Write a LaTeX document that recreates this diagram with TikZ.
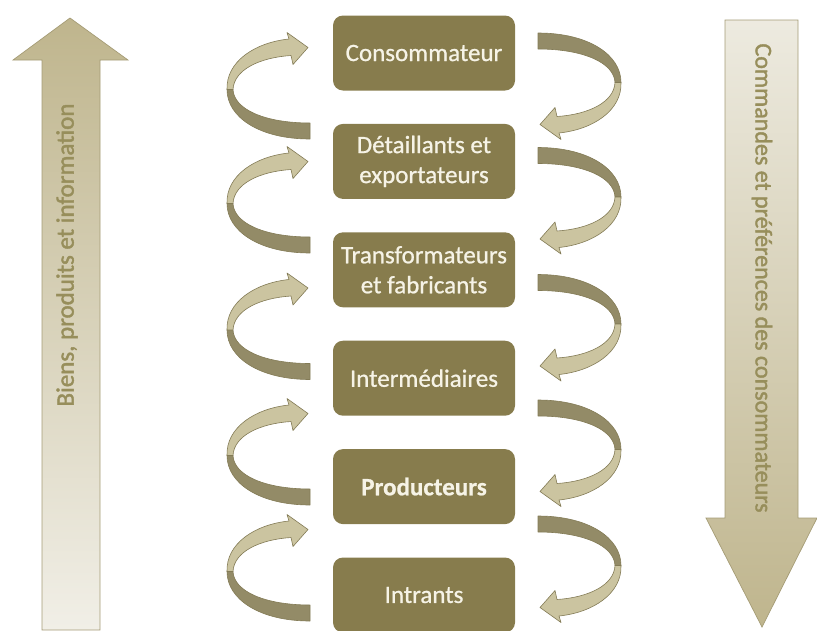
\documentclass[tikz,border=0pt]{standalone}
\usepackage{fontspec}
\setmainfont{Carlito}
\newfontfamily\epais[FakeBold=0.8]{Carlito}
\newfontfamily\fleche[FakeBold=1.6]{Carlito}
\usetikzlibrary{positioning}

\definecolor{olivebox}{HTML}{877C4D}
\definecolor{boxtext}{HTML}{F6F3E6}
\definecolor{ribbonlight}{HTML}{CBC4A0}
\definecolor{ribbondark}{HTML}{938B67}
\definecolor{ribbonedge}{HTML}{837B56}
\definecolor{flowdark}{HTML}{BFB58D}
\definecolor{flowlight}{HTML}{F1EFE7}
\definecolor{flowedge}{HTML}{A59C76}
\definecolor{flowtext}{HTML}{978E5B}

\tikzset{
    etape/.style={rectangle, rounded corners=10pt, minimum width=182pt, minimum height=75pt, align=center, fill=olivebox, text=boxtext, font=\epais\fontsize{25}{30}\selectfont},
    flux/.style={draw=flowedge, line width=0.7pt},
    fluxtexte/.style={text=flowtext, inner sep=0pt},
    ruban/.style={draw=ribbonedge, line width=0.6pt, line join=round},
    % twisted ribbon arrow, tail on the right at (0,41.5), tip at (-2,-42)
    pics/boucle/.style={code={
        \filldraw[ruban, fill=ribbondark] (0,49.5) .. controls (-50,49.5) and (-83,28) .. (-83,0)
            -- (-77,0) .. controls (-76,20) and (-45,33.5) .. (0,33.5) -- cycle;
        \filldraw[ruban, fill=ribbonlight] (-83,0) .. controls (-84,-28) and (-55,-47) .. (-21,-50.5)
            -- (-23,-57) -- (-2,-42) -- (-17,-25) -- (-19,-34)
            .. controls (-50,-32) and (-76,-20) .. (-77,0) -- cycle;
    }},
}

\begin{document}
\begin{tikzpicture}[x=1pt, y=-1pt, node distance=33pt]
    \useasboundingbox (0,0) rectangle (817,630);

    % chain of actors
    \node [etape] (conso) at (424,53) {Consommateur};
    \node [etape, below=of conso] (detail) {D\'etaillants et\\exportateurs};
    \node [etape, below=of detail] (transfo) {Transformateurs\\et fabricants};
    \node [etape, below=of transfo] (inter) {Interm\'ediaires};
    \node [etape, below=of inter] (prod) {\textbf{Producteurs}};
    \node [etape, below=of prod] (intrants) {Intrants};

    % loops on both sides
    \foreach \m in {89.5,203.5,330,455.5,571.5}
        \pic at (310,\m) {boucle};
    \foreach \m in {82.5,197,324,449.5,565.5}
        \pic [rotate=180] at (538,\m) {boucle};

    % big flow arrows
    \path [flux, top color=flowdark, bottom color=flowlight]
        (42,630) -- (42,60) -- (13,60) -- (70,18) -- (128,60) -- (100,60) -- (100,630) -- cycle;
    \path [flux, top color=flowlight!92!flowdark, bottom color=flowdark]
        (725,20) -- (798,20) -- (798,518) -- (817,518) -- (762,627) -- (706,518) -- (725,518) -- cycle;

    \node [fluxtexte, rotate=90, font=\fleche\fontsize{25}{30}\selectfont] (biens) at (67,255) {Biens, produits et information};
    \node [fluxtexte, rotate=-90, font=\fleche\fontsize{24}{29}\selectfont] (commandes) at (762,278) {Commandes et pr\'ef\'erences des consommateurs};
\end{tikzpicture}
\end{document}
